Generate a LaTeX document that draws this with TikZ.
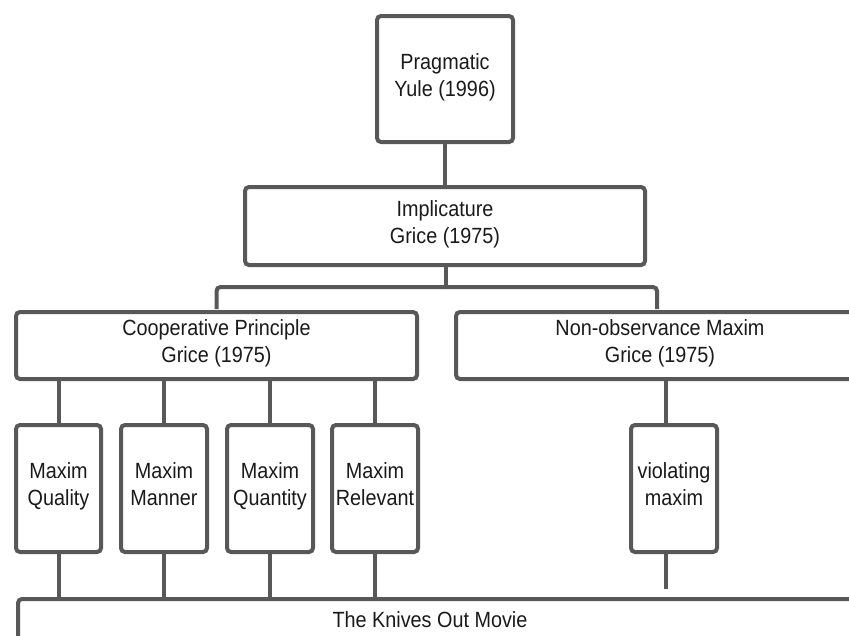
\documentclass[tikz,border=0pt]{standalone}
\usepackage{fontspec}
\setmainfont[FakeStretch=0.9]{Liberation Sans}
\definecolor{boxline}{HTML}{585858}
\definecolor{txt}{HTML}{1A1A1A}
\begin{document}
\begin{tikzpicture}[x=1pt,y=-1pt,
  box/.style={draw=boxline, line width=4pt, rounded corners=4pt, fill=white,
    inner sep=0pt, align=center, text=txt,
    font=\fontsize{22}{27}\selectfont,
    execute at begin node={\rule{0pt}{25pt}}, execute at end node={\strut}},
  link/.style={draw=boxline, line width=4pt, rounded corners=4pt}]
\useasboundingbox (0,0) rectangle (849,635);
\clip (0,0) rectangle (849,635);
% nodes
\node[box, minimum width=136, minimum height=126] (prag) at (445,79) {Pragmatic\\Yule (1996)};
\node[box, minimum width=400, minimum height=78] (impl) at (445,226) {Implicature\\Grice (1975)};
\node[box, minimum width=401, minimum height=67] (coop) at (216.5,345.5) {Cooperative Principle\\Grice (1975)};
\node[box, minimum width=408, minimum height=67] (nonobs) at (660,345.5) {Non-observance Maxim\\Grice (1975)};
\node[box, minimum width=85, minimum height=127] (qual) at (58.5,488.5) {Maxim\\Quality};
\node[box, minimum width=86, minimum height=127] (mann) at (164,488.5) {Maxim\\Manner};
\node[box, minimum width=86, minimum height=127] (quan) at (270,488.5) {Maxim\\Quantity};
\node[box, minimum width=86, minimum height=127] (rele) at (375,488.5) {Maxim\\Relevant};
\node[box, minimum width=86, minimum height=127] (viol) at (674,488.5) {violating\\maxim};
\node[draw=boxline, line width=4pt, rounded corners=4pt, fill=white, inner sep=0pt,
  minimum width=900, minimum height=120, anchor=north west] (knives) at (16,597) {};
\node[text=txt, font=\fontsize{22}{27}\selectfont, inner sep=0pt] (kniveslabel) at (430,620) {The Knives Out Movie};
% connectors
\coordinate (split) at (446,287);
\draw[link] (prag.south) -- (impl.north);
\draw[link] ([xshift=1]impl.south) -- (split);
\draw[link] (split) -| ([yshift=1]coop.north);
\draw[link] (split) -| ([xshift=-3,yshift=1]nonobs.north);
\foreach \m in {qual,mann,quan,rele}{
  \draw[link] (\m.north) -- (\m.north |- coop.south);
  \draw[link] (\m.south) -- (\m.south |- knives.north);
}
\draw[link] ([xshift=-8]viol.north) -- ([xshift=-8]viol.north |- nonobs.south);
\draw[link] ([xshift=-8]viol.south) -- ([xshift=-8,yshift=8]viol.south |- knives.north);
\end{tikzpicture}
\end{document}
